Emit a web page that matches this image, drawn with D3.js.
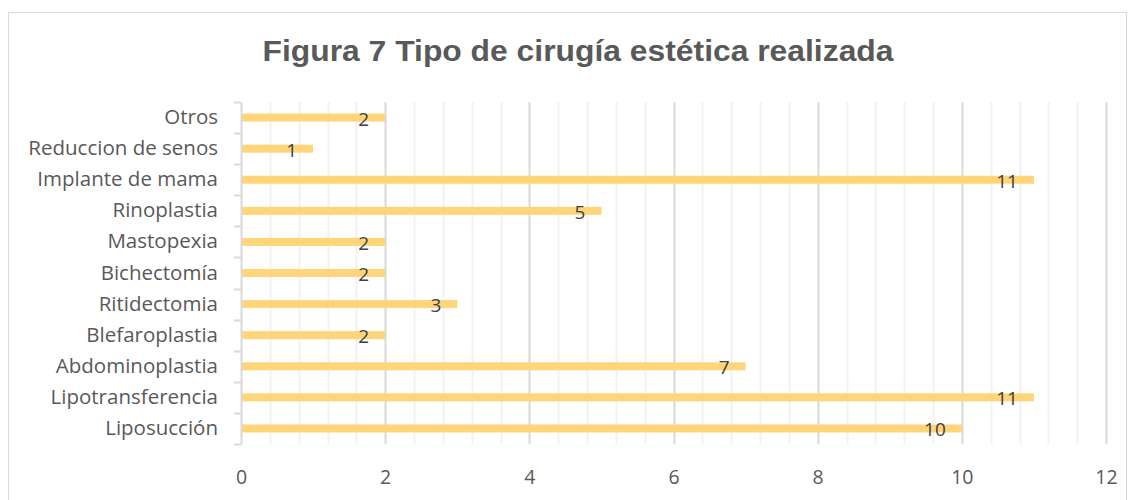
<html>
<head>
<meta charset="utf-8">
<title>Figura 7</title>
<style>
  body { margin: 0; background: #fff; }
  text { font-family: "Open Sans", Lato, sans-serif; }
</style>
</head>
<body>
<svg id="chart" width="1135" height="500"></svg>
<script src="https://cdnjs.cloudflare.com/ajax/libs/d3/7.8.5/d3.min.js"></script>
<script>
  // data, listed top to bottom as in the chart
  var categories = ["Otros", "Reduccion de senos", "Implante de mama", "Rinoplastia", "Mastopexia",
                    "Bichectomía", "Ritidectomia", "Blefaroplastia", "Abdominoplastia", "Lipotransferencia", "Liposucción"];
  var values = [2, 1, 11, 5, 2, 2, 3, 2, 7, 11, 10];
  var xTicks = [0, 2, 4, 6, 8, 10, 12];
  var title = "Figura 7 Tipo de cirugía estética realizada";

  var svg = d3.select("#chart");
  var pLeft = 241, pRight = 1106, pTop = 102, pBottom = 444;

  svg.append("rect").attr("x", 8.5).attr("y", 12.5).attr("width", 1118).attr("height", 500)
     .attr("fill", "#fff").attr("stroke", "#d9d9d9");

  svg.append("text").attr("x", 578).attr("y", 61).attr("text-anchor", "middle")
     .style("font-family", "'Liberation Sans', Arial, sans-serif")
     .attr("font-size", 29).attr("font-weight", "bold").attr("fill", "#595959")
     .attr("textLength", 631).attr("lengthAdjust", "spacingAndGlyphs")
     .text(title);

  var x = d3.scaleLinear().domain([0, 12]).range([pLeft, pRight]);
  var y = d3.scaleBand().domain(categories).range([pTop, pBottom]);

  // minor grid
  var minor = d3.range(0, 12.001, 0.4).filter(function (d) { return Math.abs(d / 2 - Math.round(d / 2)) > 0.01; });
  svg.selectAll(".minor").data(minor).enter().append("line")
     .attr("x1", function (d) { return Math.round(x(d)) + 0.5; })
     .attr("x2", function (d) { return Math.round(x(d)) + 0.5; })
     .attr("y1", pTop).attr("y2", pBottom)
     .attr("stroke", "#f2f2f2").attr("stroke-width", 2);

  // major grid
  svg.selectAll(".major").data(xTicks.slice(1)).enter().append("line")
     .attr("x1", function (d) { return Math.round(x(d)) + 0.5; })
     .attr("x2", function (d) { return Math.round(x(d)) + 0.5; })
     .attr("y1", pTop).attr("y2", pBottom)
     .attr("stroke", "#d9d9d9").attr("stroke-width", 2);

  // bars
  svg.selectAll(".bar").data(values).enter().append("rect")
     .attr("x", x(0))
     .attr("y", function (d, i) { return y(categories[i]) + y.bandwidth() / 2 - 4; })
     .attr("width", function (d) { return x(d) - x(0); })
     .attr("height", 8)
     .attr("fill", "#ffd57a");

  // data labels
  svg.selectAll(".lbl").data(values).enter().append("text")
     .attr("x", function (d) { return x(d) - 16; })
     .attr("y", function (d, i) { return y(categories[i]) + y.bandwidth() / 2 + 8; })
     .attr("text-anchor", "end").attr("font-size", 19).attr("fill", "#404040")
     .text(function (d) { return d; });

  // y axis
  var yAxis = svg.append("g").attr("transform", "translate(" + pLeft + ",0)")
     .call(d3.axisLeft(y).tickSize(0).tickPadding(23));
  yAxis.select(".domain").attr("stroke", "#d9d9d9").attr("stroke-width", 2);
  yAxis.selectAll("text").attr("font-size", 20.5).attr("fill", "#595959");
  svg.selectAll(".ytick").data(d3.range(categories.length + 1)).enter().append("line")
     .attr("x1", pLeft - 7).attr("x2", pLeft)
     .attr("y1", function (d) { return Math.round(pTop + d * y.step()) + 0.5; })
     .attr("y2", function (d) { return Math.round(pTop + d * y.step()) + 0.5; })
     .attr("stroke", "#d9d9d9").attr("stroke-width", 2);

  // x axis labels
  var xAxis = svg.append("g").attr("transform", "translate(0," + pBottom + ")")
     .call(d3.axisBottom(x).tickValues(xTicks).tickSize(0).tickPadding(26));
  xAxis.select(".domain").remove();
  xAxis.selectAll("text").attr("font-size", 19.5).attr("fill", "#595959");
</script>
</body>
</html>
